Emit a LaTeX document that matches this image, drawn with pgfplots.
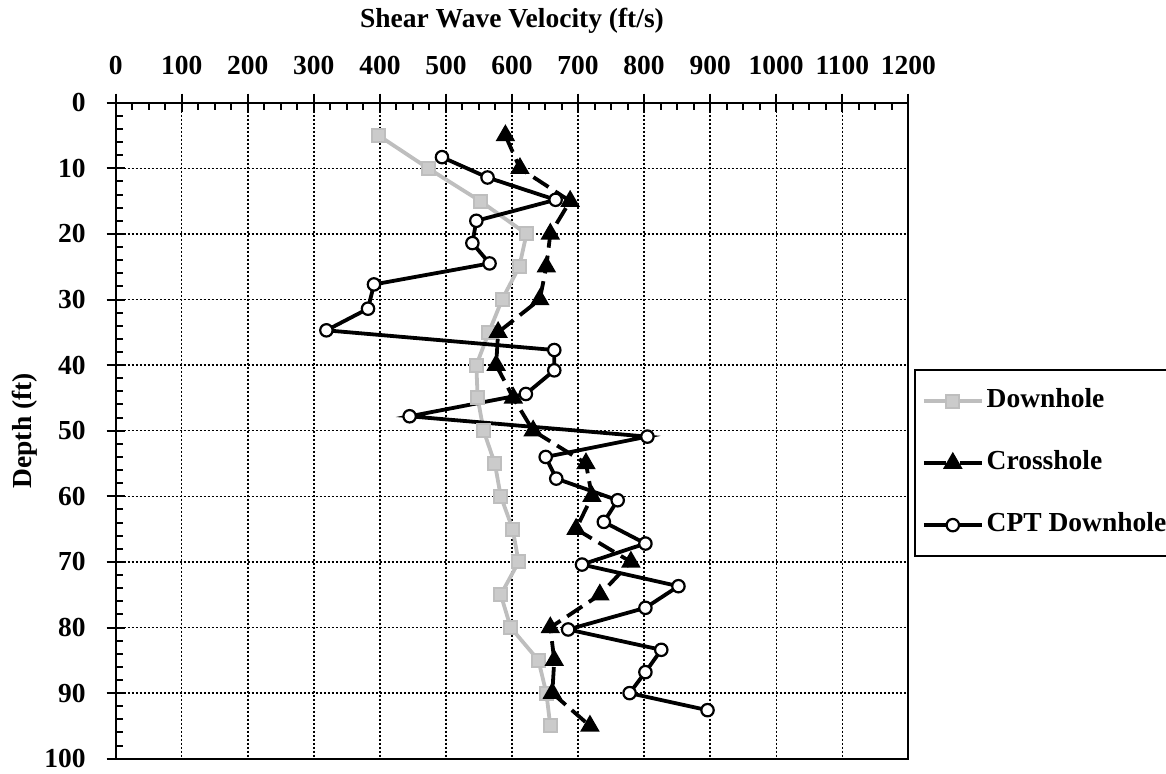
\documentclass[border=0pt]{standalone}
\usepackage{fontspec}
\setmainfont{Liberation Serif}
\usepackage{pgfplots}
\pgfplotsset{compat=1.18}
\definecolor{dhgray}{RGB}{190,190,190}
\newcommand{\chartfont}{\fontsize{13.75}{16}\selectfont\bfseries}
\begin{document}
\begin{tikzpicture}
\begin{axis}[
  name=ax,
  at={(0,0)}, anchor=south west,
  scale only axis, width=396.3pt, height=328pt,
  xmin=0, xmax=1200, ymin=0, ymax=100,
  y dir=reverse,
  axis line style={line width=1.1pt},
  xtick={0,100,...,1200}, ytick={0,10,...,100},
  minor x tick num=3, minor y tick num=4,
  xtick pos=upper, ytick pos=left, xticklabel pos=upper,
  tick align=center, major tick length=9pt, minor tick length=3.5pt,
  tick style={black, line width=1pt},
  minor x tick style={yshift=-1.75pt},
  minor y tick style={xshift=1.75pt},
  grid=major, grid style={black, dash pattern=on 1.2pt off 0.8pt, line width=0.7pt},
  ticklabel style={font=\chartfont},
  xticklabel style={yshift=6pt},
  yticklabel style={xshift=-7pt},
  /pgf/number format/assume math mode=true,
  /pgf/number format/1000 sep={},
  legend style={at={(1.0072,0.594)}, anchor=north west, draw=black, line width=1.1pt,
    font=\chartfont, inner xsep=3.4pt, inner ysep=8pt, row sep=16pt,
    nodes={inner sep=1.5pt, text height=9pt, text depth=3pt}},
  legend cell align=left,
]
\addplot[dhgray, line width=1.9pt, mark=square*, mark size=3.25pt,
  mark options={fill=dhgray!80!white, draw=dhgray, line width=1pt},
  legend image code/.code={\draw[mark repeat=2,mark phase=2] plot coordinates {(0pt,0pt) (14.5pt,0pt) (29pt,0pt)};}]
coordinates {(398,5)(473,10)(552,15)(622,20)(611,25)(585,30)(565,35)(546,40)(548,45)(557,50)(574,55)(583,60)(601,65)(610,70)(583,75)(598,80)(640,85)(652,90)(658,95)};
\addlegendentry{Downhole}
\addplot[black, line width=1.9pt, dash pattern=on 9pt off 4pt, mark=triangle*, mark size=3.75pt,
  mark options={solid, fill=black},
  legend image code/.code={\draw[solid] (0pt,0pt) -- (11pt,0pt); \draw[solid] (18pt,0pt) -- (29pt,0pt); \draw plot coordinates {(14.5pt,0pt)};}]
coordinates {(590,5)(612,10)(688,15)(658,20)(652,25)(642,30)(579,35)(576,40)(602,45)(632,50)(712,55)(721,60)(697,65)(780,70)(733,75)(658,80)(664,85)(661,90)(718,95)};
\addlegendentry{Crosshole}
\addplot[black, line width=1.9pt, mark=*, mark size=3.1pt,
  mark options={fill=white, line width=1.1pt},
  legend image code/.code={\draw[mark repeat=2,mark phase=2] plot coordinates {(0pt,0pt) (14.5pt,0pt) (29pt,0pt)};}]
coordinates {(494,8.3)(563,11.4)(666,14.8)(546,18)(540,21.4)(566,24.5)(391,27.7)(382,31.4)(319,34.7)(664,37.7)(664,40.8)(621,44.4)(445,47.8)(805,50.9)(651,54)(667,57.3)(760,60.6)(739,63.9)(802,67.2)(706,70.4)(852,73.7)(802,77)(685,80.3)(826,83.4)(802,86.8)(778,90)(896,92.6)};
\addlegendentry{CPT Downhole}
\end{axis}
\node[font=\chartfont] at (198.15pt,369pt) {Shear Wave Velocity (ft/s)};
\node[font=\chartfont, rotate=90] at (-45.35pt,164pt) {Depth (ft)};
\pgfresetboundingbox
\useasboundingbox (-57.85pt,-7.15pt) rectangle (525.15pt,379.35pt);
\end{tikzpicture}
\end{document}
